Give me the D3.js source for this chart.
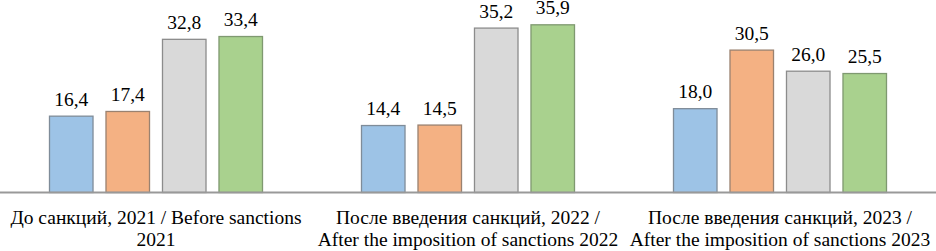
<!DOCTYPE html>
<html>
<head>
<meta charset="utf-8">
<script src="https://cdn.jsdelivr.net/npm/d3@7/dist/d3.min.js"></script>
<style>
html,body{margin:0;padding:0;background:#fff;}
svg{display:block;}
</style>
</head>
<body>
<svg id="chart" width="936" height="251"></svg>
<script>
const categories = ["2021", "2022", "2023"];
const categoryLabels = [
  ["До санкций, 2021 / Before sanctions", "2021"],
  ["После введения санкций, 2022 /", "After the imposition of sanctions 2022"],
  ["После введения санкций, 2023 /", "After the imposition of sanctions 2023"]
];
const seriesNames = ["s1", "s2", "s3", "s4"];
const series1 = [16.4, 14.4, 18.0];
const series2 = [17.4, 14.5, 30.5];
const series3 = [32.8, 35.2, 26.0];
const series4 = [33.4, 35.9, 25.5];
const seriesValues = [series1, series2, series3, series4];
const fills = ["#9DC3E6", "#F4B183", "#D9D9D9", "#A9D18E"];
const strokes = ["#7f8c99", "#9a8270", "#8c8c8c", "#7f9970"];

const FONT = "Liberation Serif";
const W = 936;
const baseY = 192.5;
const svg = d3.select("#chart");

const x0 = d3.scaleBand().domain(categories).range([0, W]).paddingInner(0).paddingOuter(0);
const x1 = d3.scaleBand().domain(seriesNames).range([49, 263]).paddingInner(0.212).paddingOuter(0);
const y = d3.scaleLinear().domain([0, 41]).range([baseY, baseY - 41 * 4.685]);

const fmt = v => d3.format(".1f")(v).replace(".", ",");

const data = [];
categories.forEach((c, i) => {
  seriesNames.forEach((s, j) => {
    data.push({cat: c, ser: s, j: j, v: seriesValues[j][i]});
  });
});

const g = svg.append("g");
g.selectAll("rect.bar").data(data).enter().append("rect")
  .attr("class", "bar")
  .attr("x", d => x0(d.cat) + x1(d.ser) + 0.5)
  .attr("y", d => y(d.v) + 0.5)
  .attr("width", x1.bandwidth() - 1)
  .attr("height", d => baseY - y(d.v) - 0.5)
  .attr("fill", d => fills[d.j])
  .attr("stroke", d => strokes[d.j])
  .attr("stroke-width", 1.3);

g.selectAll("text.val").data(data).enter().append("text")
  .attr("class", "val")
  .attr("x", d => x0(d.cat) + x1(d.ser) + x1.bandwidth() / 2)
  .attr("y", d => y(d.v) - 10)
  .attr("text-anchor", "middle")
  .attr("font-family", FONT)
  .attr("font-size", 19.5)
  .attr("fill", "#000")
  .text(d => fmt(d.v));

const axis = d3.axisBottom(x0).tickSize(0).tickFormat("");
const ax = svg.append("g").attr("transform", `translate(0,${baseY})`).call(axis);
ax.select(".domain").attr("stroke", "#999").attr("stroke-width", 2).attr("d", `M0,0H${W}`);

categories.forEach((c, i) => {
  const cx = x0(c) + x0.bandwidth() / 2;
  const t = svg.append("text")
    .attr("x", cx)
    .attr("y", 223.5)
    .attr("text-anchor", "middle")
    .attr("font-family", FONT)
    .attr("font-size", 19.5)
    .attr("fill", "#000");
  categoryLabels[i].forEach((line, k) => {
    t.append("tspan").attr("x", cx).attr("dy", k === 0 ? 0 : 22.5).text(line);
  });
});
</script>
</body>
</html>
